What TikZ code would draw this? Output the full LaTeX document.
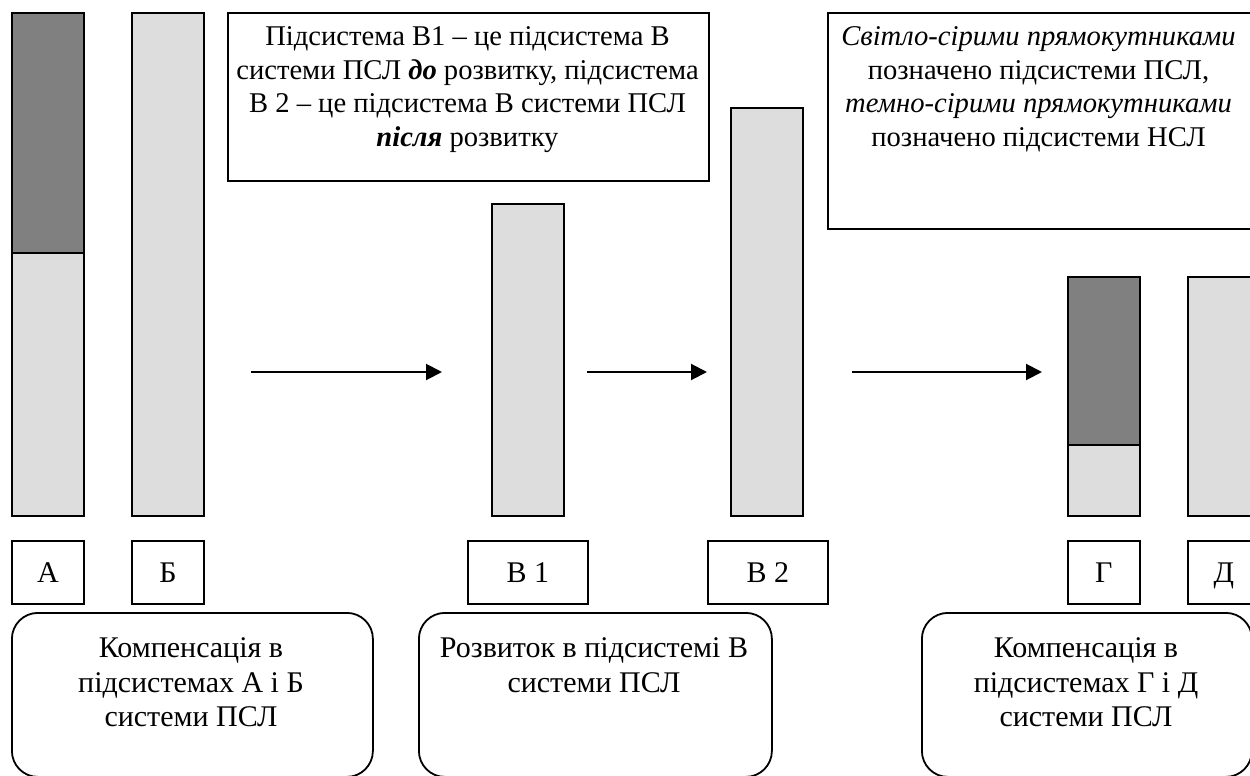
\documentclass[tikz,border=0pt]{standalone}
\usepackage{fontspec}
\setmainfont{Liberation Serif}
\usetikzlibrary{arrows.meta}
\definecolor{lightbar}{RGB}{221,221,221}
\definecolor{darkbar}{RGB}{128,128,128}
\begin{document}
\begin{tikzpicture}[x=0.5pt,y=-0.5pt,
  bar/.style={draw, line width=1.1pt, inner sep=0pt, anchor=north west, minimum width=36pt},
  light/.style={bar, fill=lightbar},
  dark/.style={bar, fill=darkbar},
  lbl/.style={draw, line width=0.9pt, inner sep=0pt, anchor=north west, minimum height=31.5pt, text height=10pt, text depth=0pt, font=\fontsize{15}{17.2}\selectfont},
  note/.style={draw, line width=1pt, anchor=north west, inner sep=0pt},
  stage/.style={draw, line width=0.9pt, rounded corners=13pt, anchor=north west, inner sep=0pt},
  txt/.style={align=center, inner sep=0pt, font=\fontsize{15}{17.4}\selectfont, anchor=north},
  notetxt/.style={txt, font=\fontsize{14.3}{16.85}\selectfont},
  arr/.style={line width=1pt, -{Triangle[length=8pt,width=8pt]}}]
\useasboundingbox (0,0) rectangle (1250,776);
\clip (0,0) rectangle (1250,776);

% bars
\node[dark, minimum height=120pt] (Atop) at (11,12) {};
\node[light, minimum height=131.5pt] (Abot) at (11,252) {};
\node[light, minimum height=251.5pt] (B) at (131,12) {};
\node[light, minimum height=156pt] (V1) at (491,203) {};
\node[light, minimum height=204pt] (V2) at (730,107) {};
\node[dark, minimum height=84pt] (Gtop) at (1067,276) {};
\node[light, minimum height=35.5pt] (Gbot) at (1067,444) {};
\node[light, minimum height=119.5pt] (D) at (1187,276) {};

% labels
\node[lbl, minimum width=36pt] (lA) at (11,540) {А};
\node[lbl, minimum width=36pt] (lB) at (131,540) {Б};
\node[lbl, minimum width=60pt] (lV1) at (467,540) {В 1};
\node[lbl, minimum width=60pt] (lV2) at (707,540) {В 2};
\node[lbl, minimum width=36pt] (lG) at (1067,540) {Г};
\node[lbl, minimum width=36pt] (lD) at (1187,540) {Д};

% notes
\node[note, minimum width=240.5pt, minimum height=84pt] (noteB) at (227,12) {};
\node[notetxt] (noteBtext) at (467.5,26) {Підсистема В1 – це підсистема В\\системи ПСЛ \textbf{\textit{до}} розвитку, підсистема\\В 2 – це підсистема В системи ПСЛ\\\textbf{\textit{після}} розвитку};
\node[note, minimum width=212.5pt, minimum height=108pt] (noteL) at (827,12) {};
\node[notetxt] (noteLtext) at (1038.5,26) {\textit{Світло-сірими прямокутниками}\\позначено підсистеми ПСЛ,\\\textit{темно-сірими прямокутниками}\\позначено підсистеми НСЛ};

% stages
\node[stage, minimum width=180.5pt, minimum height=82pt] (s1) at (11,612) {};
\node[txt] (s1text) at (191,637) {Компенсація в\\підсистемах А і Б\\системи ПСЛ};
\node[stage, minimum width=176.5pt, minimum height=82pt] (s2) at (418,612) {};
\node[txt] (s2text) at (594,637) {Розвиток в підсистемі В\\системи ПСЛ};
\node[stage, minimum width=165pt, minimum height=82pt] (s3) at (921,612) {};
\node[txt] (s3text) at (1086,637) {Компенсація в\\підсистемах Г і Д\\системи ПСЛ};

% arrows
\coordinate (a1s) at (251,372);
\coordinate (a1e) at (442,372);
\coordinate (a2s) at (587,372);
\coordinate (a2e) at (707,372);
\coordinate (a3s) at (852,372);
\coordinate (a3e) at (1042,372);
\draw[arr] (a1s) -- (a1e);
\draw[arr] (a2s) -- (a2e);
\draw[arr] (a3s) -- (a3e);
\end{tikzpicture}
\end{document}
